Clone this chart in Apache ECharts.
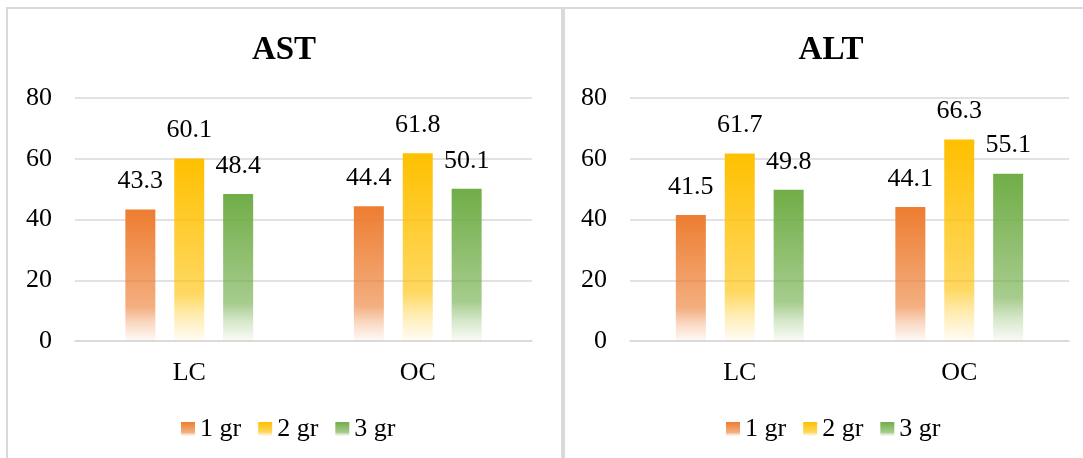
<!DOCTYPE html>
<html>
<head>
<meta charset="utf-8">
<style>
html,body{margin:0;padding:0;background:#fff;}
#chart{width:1083px;height:458px;}
</style>
<script src="https://cdn.jsdelivr.net/npm/echarts@6/dist/echarts.min.js"></script>
</head>
<body>
<div id="chart"></div>
<script>
// ---- data ----
var categories = ['LC', 'OC'];
var groupNames = ['1 gr', '2 gr', '3 gr'];
var astG1 = [43.3, 44.4];
var astG2 = [60.1, 61.8];
var astG3 = [48.4, 50.1];
var altG1 = [41.5, 44.1];
var altG2 = [61.7, 66.3];
var altG3 = [49.8, 55.1];
var panelTitles = ['AST', 'ALT'];
var yTicks = [0, 20, 40, 60, 80];

var FONT = '"Liberation Serif", "Times New Roman", serif';
var baseColors = [[237,125,49],[255,192,0],[112,173,71]];

function grad(c) {
  function rgba(a){ return 'rgba(' + c[0] + ',' + c[1] + ',' + c[2] + ',' + a + ')'; }
  return new echarts.graphic.LinearGradient(0, 0, 0, 1, [
    {offset: 0, color: rgba(1)},
    {offset: 0.74, color: rgba(0.62)},
    {offset: 0.86, color: rgba(0.3)},
    {offset: 1, color: rgba(0.04)}
  ]);
}

var chart = echarts.init(document.getElementById('chart'), null, {renderer: 'canvas'});

function yAxis(gi) {
  return {
    type: 'value', gridIndex: gi, min: yTicks[0], max: yTicks[yTicks.length - 1], interval: 20,
    axisLine: {show: false}, axisTick: {show: false},
    axisLabel: {color: '#000', fontFamily: FONT, fontSize: 26, margin: 23},
    splitLine: {lineStyle: {color: '#D9D9D9', width: 1.5}}
  };
}
function xAxis(gi) {
  return {
    type: 'category', gridIndex: gi, data: categories,
    axisLine: {lineStyle: {color: '#D9D9D9', width: 1.5}},
    axisTick: {show: false},
    axisLabel: {color: '#000', fontFamily: FONT, fontSize: 26, margin: 19}
  };
}
function barSeries(name, data, gi, ci) {
  return {
    name: name, type: 'bar', xAxisIndex: gi, yAxisIndex: gi, data: data,
    barWidth: 30, barGap: '63%',
    itemStyle: {color: grad(baseColors[ci])},
    label: {show: true, position: 'top', distance: 15, color: '#000', fontFamily: FONT, fontSize: 26}
  };
}
function legend(left) {
  return {
    left: left, top: 416, padding: 0, itemWidth: 14, itemHeight: 14, itemGap: 17,
    icon: 'rect', data: groupNames, selectedMode: false,
    textStyle: {color: '#000', fontFamily: FONT, fontSize: 26}
  };
}

var option = {
  backgroundColor: '#fff',
  animation: false,
  grid: [
    {left: 75, right: 1083 - 532, top: 98, bottom: 117},
    {left: 630, right: 1083 - 1069, top: 98, bottom: 117}
  ],
  xAxis: [xAxis(0), xAxis(1)],
  yAxis: [yAxis(0), yAxis(1)],
  legend: [legend(181), legend(726)],
  graphic: [
    {type: 'rect', silent: true, z: -10, shape: {x: 7, y: 8, width: 555, height: 470},
     style: {fill: 'none', stroke: '#D9D9D9', lineWidth: 2}},
    {type: 'rect', silent: true, z: -10, shape: {x: 564, y: 8, width: 560, height: 470},
     style: {fill: 'none', stroke: '#D9D9D9', lineWidth: 2}},
    {type: 'text', x: 284, y: 50, style: {text: panelTitles[0], font: 'bold 33px ' + FONT, fill: '#000', textAlign: 'center', textVerticalAlign: 'middle'}},
    {type: 'text', x: 831, y: 50, style: {text: panelTitles[1], font: 'bold 33px ' + FONT, fill: '#000', textAlign: 'center', textVerticalAlign: 'middle'}}
  ],
  series: [
    barSeries(groupNames[0], astG1, 0, 0),
    barSeries(groupNames[1], astG2, 0, 1),
    barSeries(groupNames[2], astG3, 0, 2),
    barSeries(groupNames[0], altG1, 1, 0),
    barSeries(groupNames[1], altG2, 1, 1),
    barSeries(groupNames[2], altG3, 1, 2)
  ]
};
chart.setOption(option);
</script>
</body>
</html>
